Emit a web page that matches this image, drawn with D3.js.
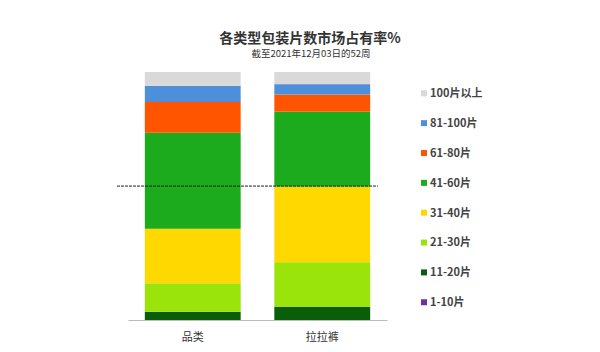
<!DOCTYPE html>
<html>
<head>
<meta charset="utf-8">
<script src="https://cdn.jsdelivr.net/npm/d3@7"></script>
<style>
  body { margin: 0; background: #fff; }
  text { font-family: "Noto Sans CJK SC", "Noto Sans", sans-serif; }
</style>
</head>
<body>
<div id="chart"></div>
<script>
// 类别与分段（由下往上堆叠）
const categories = ['品类', '拉拉裤'];
const segments = ['1-10片', '11-20片', '21-30片', '31-40片', '41-60片', '61-80片', '81-100片', '100片以上'];
const colors = ['#7030a0', '#0a5e0a', '#9ae40c', '#ffd800', '#1cab1c', '#ff5500', '#4e8fda', '#d9d9d9'];

// 各分段占有率 %
const shareCategory = [0, 3.3, 11.5, 22.0, 38.7, 12.4, 6.5, 5.6];
const sharePullUps  = [0, 5.4, 17.9, 30.5, 30.2, 6.9, 4.2, 4.9];
const refLine = 54; // 虚线位置 %

const titleText = '各类型包装片数市场占有率%';
const subtitleText = '截至2021年12月03日的52周';

const svg_width = 600, svg_height = 352;
const svg = d3.select('#chart').append('svg')
  .attr('width', svg_width).attr('height', svg_height);

// 组合成 stack 需要的资料
const table = categories.map((c, i) => {
  const row = { cat: c };
  const vals = i === 0 ? shareCategory : sharePullUps;
  segments.forEach((s, j) => row[s] = vals[j]);
  return row;
});
const series = d3.stack().keys(segments)(table);

const x = d3.scaleBand().domain(categories).range([128, 387])
  .paddingInner(0.26).paddingOuter(0.13);
const y = d3.scaleLinear().domain([0, 100]).range([320, 72]);
const color = d3.scaleOrdinal().domain(segments).range(colors);

// bars
svg.append('g').selectAll('g')
  .data(series)
  .join('g')
  .attr('fill', d => color(d.key))
  .selectAll('rect')
  .data(d => d)
  .join('rect')
  .attr('x', d => x(d.data.cat))
  .attr('y', d => y(d[1]))
  .attr('width', x.bandwidth())
  .attr('height', d => y(d[0]) - y(d[1]));

// x 轴
const xAxis = svg.append('g')
  .attr('transform', `translate(0,${y(0)})`)
  .call(d3.axisBottom(x).tickSize(0).tickPadding(13));
xAxis.select('.domain').attr('stroke', '#bbb').attr('stroke-width', 1.2);
xAxis.selectAll('text').attr('font-size', 11).attr('fill', '#333')
  .style('font-family', '"Noto Sans CJK SC", sans-serif');

// 虚线
svg.append('line')
  .attr('x1', 117).attr('x2', 378)
  .attr('y1', y(refLine)).attr('y2', y(refLine))
  .attr('stroke', '#222').attr('stroke-width', 1)
  .attr('stroke-dasharray', '3,1');

// 标题
svg.append('text').attr('x', 310).attr('y', 43)
  .attr('text-anchor', 'middle').attr('font-size', 14).attr('font-weight', 'bold')
  .attr('fill', '#333').text(titleText);
svg.append('text').attr('x', 311).attr('y', 57)
  .attr('text-anchor', 'middle').attr('font-size', 9.5)
  .attr('fill', '#333').text(subtitleText);

// 图例（由上往下：100片以上 ... 1-10片）
const legendItems = segments.slice().reverse();
const legend = svg.append('g').selectAll('g')
  .data(legendItems)
  .join('g')
  .attr('transform', (d, i) => `translate(421,${93.3 + i * 29.85})`);
legend.append('rect')
  .attr('x', 0).attr('y', -3).attr('width', 6).attr('height', 6)
  .attr('fill', d => color(d));
legend.append('text')
  .attr('x', 9).attr('y', 0).attr('dy', '0.35em')
  .attr('font-size', 11).attr('font-weight', 'bold').attr('fill', '#444')
  .text(d => d);
</script>
</body>
</html>
